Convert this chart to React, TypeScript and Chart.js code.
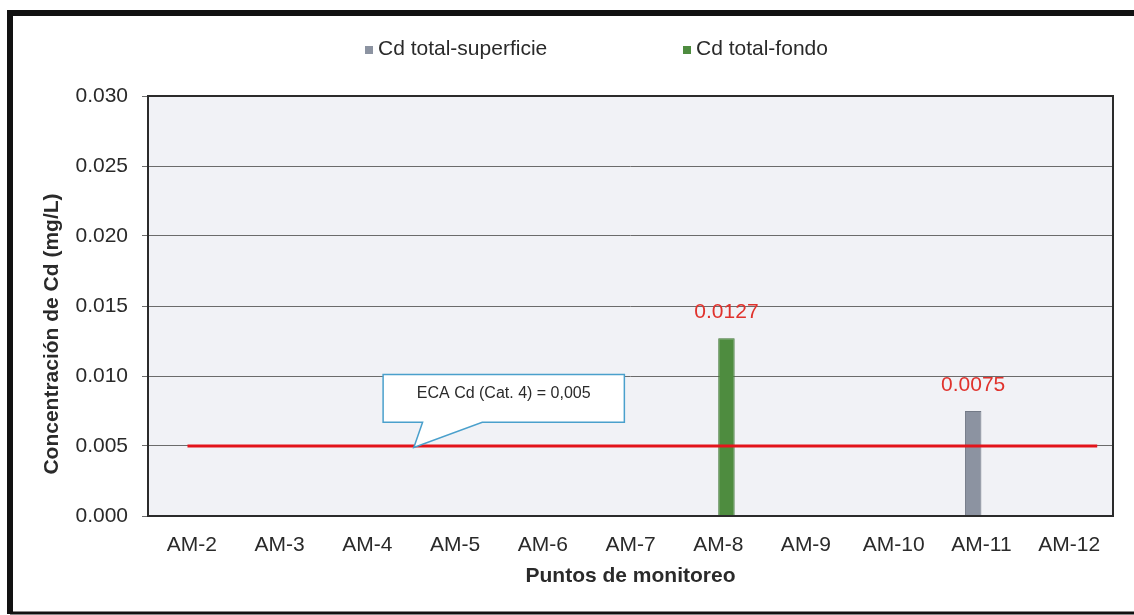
import React, { useEffect, useRef } from "react";
import { Chart, registerables } from "chart.js";

Chart.register(...registerables);

// ---------- data ----------
const categories = ["AM-2", "AM-3", "AM-4", "AM-5", "AM-6", "AM-7", "AM-8", "AM-9", "AM-10", "AM-11", "AM-12"];
const seriesNames = ["Cd total-superficie", "Cd total-fondo"];
const cdSuperficie: (number | null)[] = [null, null, null, null, null, null, null, null, null, 0.0075, null];
const cdFondo: (number | null)[] = [null, null, null, null, null, null, 0.0127, null, null, null, null];
const yRange = { min: 0, max: 0.03, step: 0.005 };
const ecaValue = 0.005;
const ecaLabel = "ECA Cd (Cat. 4) = 0,005";
const xTitle = "Puntos de monitoreo";
const yTitle = "Concentración de Cd (mg/L)";

// ---------- styles ----------
const FONT = '"Liberation Sans", Arial, sans-serif';
const TEXT = "#2a2a2a";
const GREY = "#8c93a1";
const GREEN = "#4e8c3f";
const RED = "#e3141b";
const LABEL_RED = "#e0322c";

// callout geometry in scale units (category index / y value)
const callout = { x0: 2.18, x1: 4.93, yTop: 0.0101, yBottom: 0.0067, tipX: 2.53, tipY: 0.0049, baseL: 2.63, baseR: 3.31 };
const ecaLine = { from: -0.05, to: 10.32 };

const decorPlugin = {
  id: "decor",
  beforeDraw(chart: any) {
    const { ctx, chartArea: a, width, height } = chart;
    ctx.save();
    ctx.fillStyle = "#ffffff";
    ctx.fillRect(0, 0, width, height);
    ctx.fillStyle = "#f1f2f6";
    ctx.fillRect(a.left, a.top, a.right - a.left, a.bottom - a.top);
    // outer frame
    ctx.strokeStyle = "#111111";
    ctx.lineWidth = 6;
    ctx.beginPath();
    ctx.moveTo(10, 614);
    ctx.lineTo(10, 13);
    ctx.lineTo(width + 5, 13);
    ctx.stroke();
    ctx.lineWidth = 3;
    ctx.beginPath();
    ctx.moveTo(10, 613);
    ctx.lineTo(width, 613);
    ctx.stroke();
    ctx.restore();
  },
  afterDatasetsDraw(chart: any) {
    const { ctx, chartArea: a, scales } = chart;
    const xs = scales.x;
    const ys = scales.y;
    ctx.save();
    // ECA line
    ctx.strokeStyle = RED;
    ctx.lineWidth = 3;
    ctx.beginPath();
    ctx.moveTo(xs.getPixelForValue(ecaLine.from), ys.getPixelForValue(ecaValue));
    ctx.lineTo(xs.getPixelForValue(ecaLine.to), ys.getPixelForValue(ecaValue));
    ctx.stroke();

    // callout
    const L = xs.getPixelForValue(callout.x0);
    const R = xs.getPixelForValue(callout.x1);
    const T = ys.getPixelForValue(callout.yTop);
    const B = ys.getPixelForValue(callout.yBottom);
    ctx.beginPath();
    ctx.moveTo(L, T);
    ctx.lineTo(R, T);
    ctx.lineTo(R, B);
    ctx.lineTo(xs.getPixelForValue(callout.baseR), B);
    ctx.lineTo(xs.getPixelForValue(callout.tipX), ys.getPixelForValue(callout.tipY));
    ctx.lineTo(xs.getPixelForValue(callout.baseL), B);
    ctx.lineTo(L, B);
    ctx.closePath();
    ctx.fillStyle = "#ffffff";
    ctx.fill();
    ctx.strokeStyle = "#4aa0cc";
    ctx.lineWidth = 1.5;
    ctx.stroke();
    ctx.fillStyle = TEXT;
    ctx.font = `16px ${FONT}`;
    ctx.textAlign = "center";
    ctx.textBaseline = "middle";
    ctx.fillText(ecaLabel, (L + R) / 2, (T + B) / 2 - 5);

    // data labels
    ctx.font = `21px ${FONT}`;
    ctx.fillStyle = LABEL_RED;
    chart.data.datasets.forEach((ds: any, di: number) => {
      const meta = chart.getDatasetMeta(di);
      meta.data.forEach((el: any, i: number) => {
        const v = ds.data[i];
        if (v == null) return;
        ctx.fillText(String(v), el.x, el.y - 26);
      });
    });

    // plot border
    ctx.strokeStyle = "#2b2b2b";
    ctx.lineWidth = 2;
    ctx.strokeRect(a.left, a.top, a.right - a.left, a.bottom - a.top);
    ctx.restore();
  },
  afterDraw(chart: any) {
    const { ctx } = chart;
    const items = [
      { x: 365, color: GREY, text: seriesNames[0] },
      { x: 683, color: GREEN, text: seriesNames[1] },
    ];
    const y = 49;
    ctx.save();
    ctx.font = `21px ${FONT}`;
    ctx.textAlign = "left";
    ctx.textBaseline = "middle";
    items.forEach((it) => {
      ctx.fillStyle = it.color;
      ctx.fillRect(it.x, y - 3, 8, 8);
      ctx.fillStyle = TEXT;
      ctx.fillText(it.text, it.x + 13, y);
    });
    // y axis title
    ctx.translate(52, 334);
    ctx.rotate(-Math.PI / 2);
    ctx.textAlign = "center";
    ctx.font = `bold 21px ${FONT}`;
    ctx.fillStyle = TEXT;
    ctx.fillText(yTitle, 0, 0);
    ctx.restore();
  },
};

export default function App() {
  const ref = useRef<HTMLCanvasElement | null>(null);
  useEffect(() => {
    document.body.style.margin = "0";
    if (!ref.current) return;
    const chart = new Chart(ref.current, {
      type: "bar",
      data: {
        labels: categories,
        datasets: [
          {
            label: seriesNames[0],
            data: cdSuperficie,
            backgroundColor: GREY,
            borderColor: "#737a87",
            borderWidth: 1,
            categoryPercentage: 0.375,
            barPercentage: 1,
          },
          {
            label: seriesNames[1],
            data: cdFondo,
            backgroundColor: GREEN,
            borderColor: "#3f7433",
            borderWidth: 1,
            categoryPercentage: 0.375,
            barPercentage: 1,
          },
        ],
      },
      options: {
        responsive: false,
        animation: false,
        layout: { padding: { top: 96, right: 21, bottom: 26, left: 40 } },
        plugins: { legend: { display: false }, tooltip: { enabled: false } },
        scales: {
          x: {
            grid: { display: false },
            border: { display: false },
            ticks: { color: TEXT, font: { size: 21, family: FONT }, padding: 9, maxRotation: 0 },
            title: {
              display: true,
              text: xTitle,
              color: TEXT,
              font: { size: 21, weight: "bold", family: FONT },
              padding: { top: 4, bottom: 0 },
            },
            afterFit: (s: any) => {
              s.height = 73;
            },
          },
          y: {
            min: yRange.min,
            max: yRange.max,
            grid: { color: "#6b6b6b", lineWidth: 1, tickLength: 6, drawTicks: true },
            border: { display: false },
            ticks: {
              stepSize: yRange.step,
              color: TEXT,
              font: { size: 21, family: FONT },
              padding: 14,
              callback: (v: any) => Number(v).toFixed(3),
            },
            title: { display: false },
            afterFit: (s: any) => {
              s.width = 108;
            },
          },
        },
      },
      plugins: [decorPlugin],
    });
    return () => chart.destroy();
  }, []);
  return (
    <div style={{ width: 1134, height: 615 }}>
      <canvas ref={ref} width={1134} height={615} style={{ display: "block" }} />
    </div>
  );
}
